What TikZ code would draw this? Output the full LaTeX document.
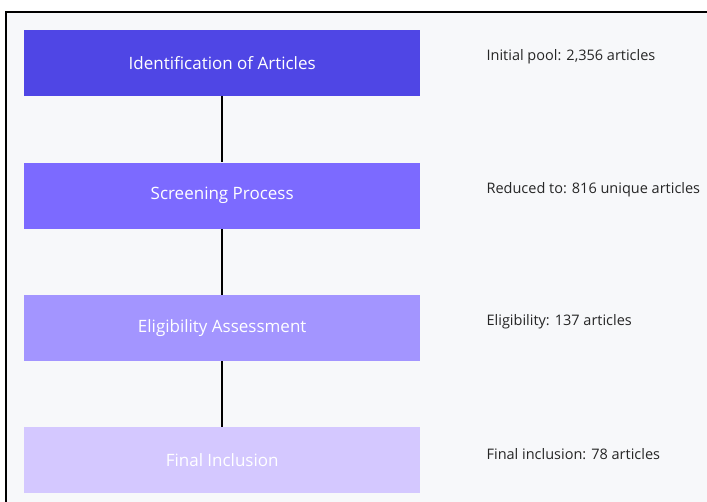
\documentclass[tikz,border=0pt]{standalone}
\usepackage{fontspec}
\setmainfont{Open Sans}
\usetikzlibrary{positioning}
\definecolor{panelbg}{HTML}{F7F8FA}
\definecolor{stageA}{HTML}{4F46E5}
\definecolor{stageB}{HTML}{7C6AFF}
\definecolor{stageC}{HTML}{A395FF}
\definecolor{stageD}{HTML}{D4C8FF}
\tikzset{
  stage/.style={minimum width=396pt, minimum height=66pt, inner sep=0pt, text=white, font=\fontsize{17}{20}\selectfont},
  note/.style={anchor=west, inner sep=0pt, text=black!85, font=\fontsize{14.5}{17}\selectfont},
  link/.style={draw=black, line width=2pt}
}
\begin{document}
\begin{tikzpicture}[x=1pt, y=1pt, node distance=66pt]
  \useasboundingbox (0,0) rectangle (707,-502);
  \clip (0,0) rectangle (707,-502);
  \fill[white] (0,0) rectangle (707,-502);
  \draw[link, fill=panelbg] (6,-12) rectangle (720,-520);
  % Stages
  \node (ident) [stage, fill=stageA, anchor=north west] at (24,-30) {Identification of Articles};
  \node (screen) [stage, fill=stageB, below=of ident] {Screening Process};
  \node (elig) [stage, fill=stageC, below=of screen] {Eligibility Assessment};
  \node (final) [stage, fill=stageD, below=of elig] {Final Inclusion};
  % Counts
  \node (identnote) [note, right=66pt of ident.east, yshift=6pt] {Initial pool: 2,356 articles};
  \node (screennote) [note, right=66pt of screen.east, yshift=6pt] {Reduced to: 816 unique articles};
  \node (elignote) [note, right=66pt of elig.east, yshift=6pt] {Eligibility: 137 articles};
  \node (finalnote) [note, right=66pt of final.east, yshift=6pt] {Final inclusion: 78 articles};

  \draw[link] (ident) -- (screen);
  \draw[link] (screen) -- (elig);
  \draw[link] (elig) -- (final);
\end{tikzpicture}
\end{document}
